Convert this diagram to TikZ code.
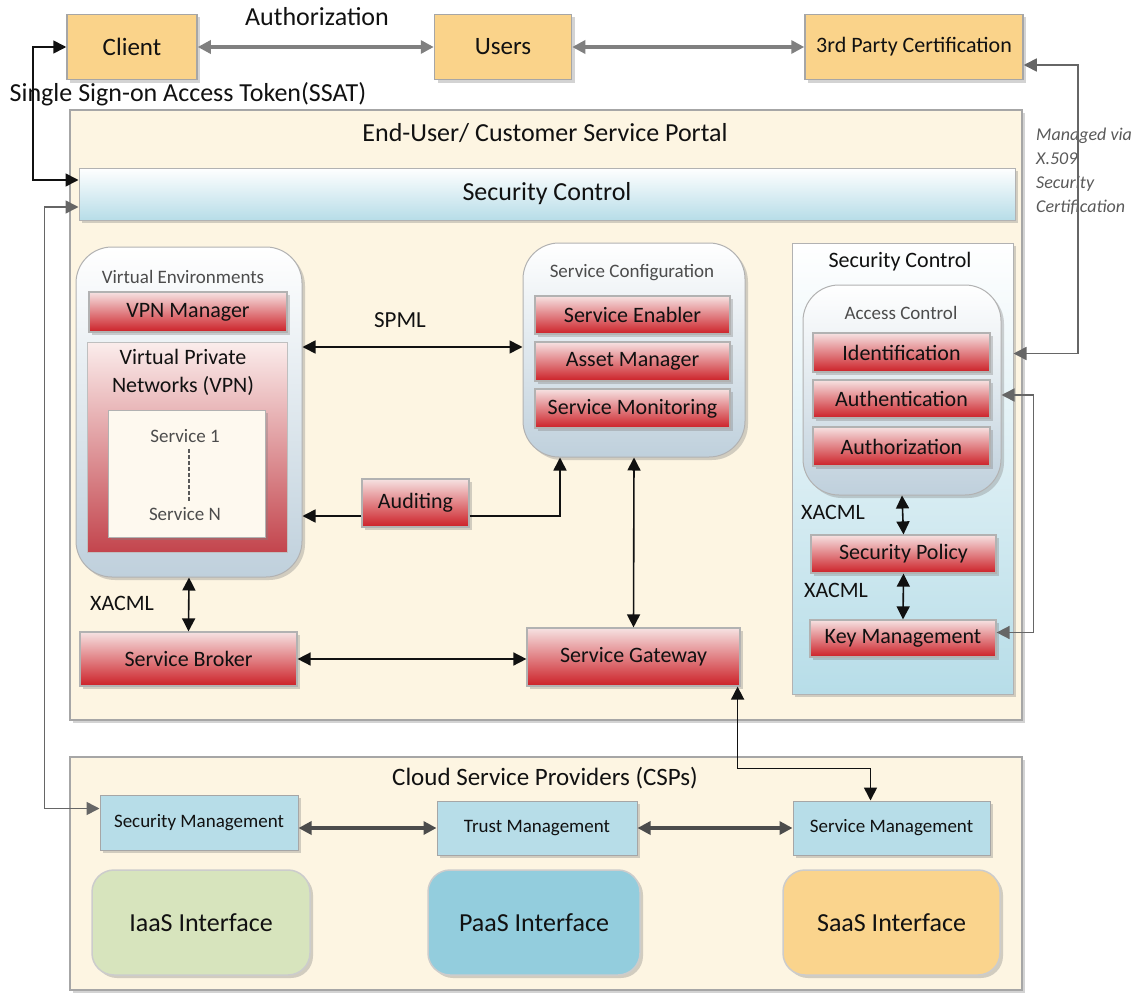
\documentclass[tikz,border=0pt]{standalone}
\usepackage{fontspec}
\setmainfont{Carlito}
\usetikzlibrary{arrows.meta,shadows,calc}
\newcommand\fsz[1]{\fontsize{#1}{#1}\selectfont}

\begin{document}
\begin{tikzpicture}[x=1pt,y=-1pt,>={Triangle[length=13pt,width=13pt]},
    sz/.style 2 args={minimum width=#1pt,minimum height=#2pt},
    shad/.style={drop shadow={opacity=0.35,shadow xshift=3pt,shadow yshift=-3pt}},
    box/.style={inner sep=0pt,align=center,text=ink},
    panel/.style={box,fill=cream,draw=gray!70,line width=1.2pt,shad},
    topbox/.style={box,fill=orangeF,draw=gray!70,line width=1.5pt,shad},
    redbox/.style={box,top color=redT,bottom color=redB,draw=gray!60,line width=1.2pt,shad,font=\fsz{22}},
    roundbox/.style={box,rounded corners=36pt,top color=white,bottom color=roundB,draw=gray!60,line width=1pt,shad},
    mgmt/.style={box,fill=blueF,draw=gray!70,line width=1pt,shad,font=\fsz{19}},
    iface/.style={box,rounded corners=22pt,draw=gray!40,line width=1.5pt,shad,font=\fsz{26}},
    lbl/.style={inner sep=0pt,text=ink},
    sub/.style={inner sep=0pt,text=black!70,font=\fsz{19}},
    conn/.style={line width=1.6pt,draw=ink},
    route/.style={line width=1.6pt,draw=gray!80!black},
    wide/.style={line width=3.5pt,draw=gray}]
  \definecolor{ink}{HTML}{111111}
  \definecolor{cream}{HTML}{FDF5E2}
  \definecolor{orangeF}{HTML}{FAD38A}
  \definecolor{redT}{HTML}{F6E2E2}
  \definecolor{redB}{HTML}{CC2027}
  \definecolor{roundB}{HTML}{BFD0DC}
  \definecolor{blueF}{HTML}{B7DDE8}
  \definecolor{vpnT}{HTML}{FBEDEC}
  \definecolor{vpnB}{HTML}{C3454D}
  \definecolor{svcF}{HTML}{FEF9EF}
  \definecolor{iaasF}{HTML}{D7E4BD}
  \definecolor{paasF}{HTML}{93CDDD}
  \definecolor{saasF}{HTML}{FAD48D}

  \useasboundingbox (0,0) rectangle (1140,998);

  \node[topbox,sz={130}{65},font=\fsz{25}] (client) at (132,47) {Client};
  \node[topbox,sz={137}{65},font=\fsz{25}] (users) at (503,47) {Users};
  \node[topbox,sz={218}{65},font=\fsz{22}] (third) at (914,47) {3rd Party Certification};
  \node[lbl,font=\fsz{26}] (lauth) at (317,17) {Authorization};
  \node[lbl,font=\fsz{26}] (lssat) at (188,94) {Single Sign-on Access Token(SSAT)};
  \node[lbl,anchor=north west,align=left,text=black!65,font=\fontsize{18}{24}\selectfont\itshape]
    (lx509) at (1036,128) {Managed via\\X.509\\Security\\Certification};

  \node[panel,sz={952}{610}] (portal) at (546,415) {};
  \node[lbl,font=\fsz{26}] (tportal) at (545,133) {End-User/ Customer Service Portal};
  \node[box,sz={936}{52},top color=white,bottom color=blueF,draw=gray!60,line width=1pt,shad,font=\fsz{26}]
    (secbar) at (547,194) {Security Control};

  \node[roundbox,sz={226}{330}] (venv) at (189,412) {};
  \node[sub] (tvenv) at (183,277) {Virtual Environments};
  \node[redbox,sz={198}{40}] (vpnmgr) at (188,312) {VPN Manager};
  \node[box,sz={200}{210},top color=vpnT,bottom color=vpnB,draw=gray!50,line width=1pt] (vpn) at (187,447) {};
  \node[lbl,align=center,font=\fontsize{22}{28}\selectfont] (tvpn) at (183,372) {Virtual Private\\Networks (VPN)};
  \node[box,sz={157}{127},fill=svcF,draw=gray!60,line width=1pt,shad] (svcs) at (186.5,473.5) {};
  \node[sub] (svc1) at (185,436) {Service 1};
  \node[sub] (svcn) at (185,514) {Service N};
  \draw[dash pattern=on 4pt off 2pt,line width=2pt,black!65] ([xshift=4pt,yshift=-6pt]svc1.south) -- ([xshift=4pt,yshift=6pt]svcn.north);

  \node[roundbox,sz={222}{214}] (sconf) at (634,350) {};
  \node[sub] (tsconf) at (632,273) {Service Configuration};
  \node[redbox,sz={195}{38}] (enabler) at (632.5,315) {Service Enabler};
  \node[redbox,sz={195}{39}] (asset) at (632.5,361.5) {Asset Manager};
  \node[redbox,sz={195}{39}] (monitor) at (632.5,408.5) {Service Monitoring};

  \node[redbox,sz={107}{48}] (audit) at (415.5,503) {Auditing};
  \node[redbox,sz={213}{58}] (gateway) at (633.5,657) {Service Gateway};
  \node[redbox,sz={217}{54}] (broker) at (188.5,659) {Service Broker};

  \node[box,sz={221}{451},top color=white,bottom color=blueF,draw=gray!60,line width=1pt,shad] (secctl) at (902.5,468.5) {};
  \node[lbl,font=\fsz{22}] (tsecctl) at (900,262) {Security Control};
  \node[roundbox,sz={198}{210}] (access) at (902,390) {};
  \node[sub] (taccess) at (901,313) {Access Control};
  \node[redbox,sz={177}{39}] (ident) at (901.5,352.5) {Identification};
  \node[redbox,sz={177}{38}] (authn) at (901.5,399) {Authentication};
  \node[redbox,sz={177}{39}] (authz) at (901.5,446.5) {Authorization};
  \node[redbox,sz={185}{38}] (secpol) at (903.5,554) {Security Policy};
  \node[redbox,sz={186}{37}] (keymgmt) at (903,638.5) {Key Management};

  \node[lbl,font=\fsz{23}] (lspml) at (400,320) {SPML};
  \node[lbl,font=\fsz{22}] (lxacmla) at (122,603) {XACML};
  \node[lbl,font=\fsz{22}] (lxacmlb) at (833,512) {XACML};
  \node[lbl,font=\fsz{22}] (lxacmlc) at (836,590) {XACML};

  \node[panel,sz={952}{233}] (csp) at (546,873.5) {};
  \node[lbl,font=\fsz{25}] (tcsp) at (545,778) {Cloud Service Providers (CSPs)};
  \node[mgmt,sz={198}{55}] (secmgmt) at (199,822.5) {Security Management};
  \node[mgmt,sz={200}{54}] (trust) at (537,828) {Trust Management};
  \node[mgmt,sz={197}{54}] (svcmgmt) at (891.5,828) {Service Management};
  \node[iface,sz={218}{105},fill=iaasF] (iaas) at (201,922.5) {IaaS Interface};
  \node[iface,sz={212}{105},fill=paasF] (paas) at (534,922.5) {PaaS Interface};
  \node[iface,sz={217}{105},fill=saasF] (saas) at (891.5,922.5) {SaaS Interface};

  \draw[wide,<->] (client.east) -- (users.west);
  \draw[wide,<->] (users.east) -- (third.west);
  \draw[conn,<->] (client.west) -- ++(-33,0) |- ([yshift=14pt]secbar.west);
  \draw[route,<->] ([yshift=-13pt]secbar.west) -- ++(-34,0) |- ([yshift=14pt]secmgmt.west);
  \draw[route,<->] ([yshift=-18pt]third.east) -- ++(54,0) |- ([yshift=115pt]secctl.east);
  \draw[route,<->] ([yshift=-5pt]access.east) -- ++(32,0) |- ([yshift=6pt]keymgmt.east);
  \draw[conn,<->] ([yshift=65pt]venv.east) -- ([yshift=65pt]venv.east -| sconf.west);
  \draw[conn,->] ([yshift=-13pt]audit.west) -- ([yshift=-13pt]audit.west -| venv.east);
  \draw[conn,->] ([yshift=-13pt]audit.east) -| ([xshift=-74pt]sconf.south);
  \draw[conn,<->] (sconf.south) -- (gateway.north);
  \draw[conn,<->] (venv.south) -- (broker.north);
  \draw[conn,<->] (broker.east) -- (broker.east -| gateway.west);
  \draw[conn,<->] ([xshift=-3pt]gateway.south east) -- ++(0,82) -| ([xshift=-21pt]svcmgmt.north);
  \draw[conn,<->] (access.south) -- (secpol.north);
  \draw[conn,<->] (secpol.south) -- (keymgmt.north);
  \draw[wide,draw=black!70,<->] (trust.west -| secmgmt.east) -- (trust.west);
  \draw[wide,draw=black!70,<->] (trust.east) -- (svcmgmt.west);
\end{tikzpicture}
\end{document}
